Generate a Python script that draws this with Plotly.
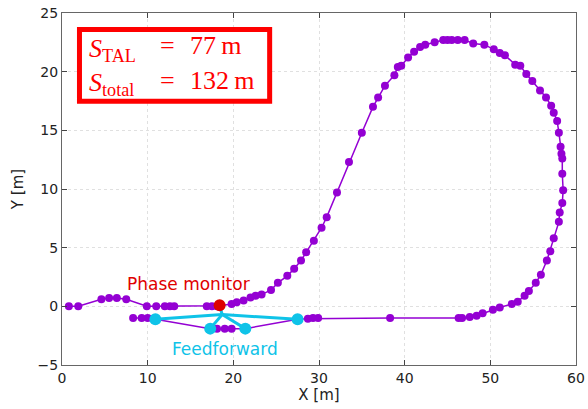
import plotly.graph_objects as go

# Vehicle trajectory (one lap), metres
path_x = [0.8, 1.9, 4.6, 5.5, 6.4, 7.5, 9.9, 11.0, 12.0, 12.6, 13.1,
          16.9, 17.5, 18.1, 18.4, 19.8, 20.4, 21.2, 22.0, 22.6, 23.3, 24.4,
          25.2, 26.3, 27.1, 27.9, 28.5, 29.4, 30.3, 30.9, 32.1, 33.5, 35.0,
          36.3, 36.9, 37.7, 38.8, 39.2, 39.6, 40.4, 41.1, 41.8, 42.4, 43.5,
          44.5, 45.0, 45.5, 46.2, 47.0, 48.0, 49.3, 50.4, 51.1, 51.7, 52.9,
          53.5, 54.2, 54.9, 55.8, 56.5, 57.1, 57.4, 57.8, 58.0, 58.2, 58.3,
          58.4, 58.4, 58.5, 58.4, 58.1, 58.0, 57.4, 57.0, 56.6, 55.9, 55.3,
          54.5, 54.0, 53.2, 52.5, 51.1, 50.3, 49.1, 48.4, 47.6, 46.7, 46.3,
          38.3, 29.9, 29.3, 28.7, 27.5, 21.4, 19.8, 19.0, 18.1, 17.3, 10.9,
          10.0, 9.3, 8.3]
path_y = [0.0, 0.0, 0.6, 0.7, 0.7, 0.6, 0.0, 0.0, 0.0, 0.0, 0.0,
          0.0, 0.0, 0.0, 0.05, 0.2, 0.35, 0.5, 0.75, 0.9, 1.0, 1.4,
          2.0, 2.6, 3.2, 3.9, 4.6, 5.6, 6.7, 7.6, 9.7, 12.3, 14.8,
          17.0, 17.8, 18.8, 19.7, 20.4, 20.5, 21.2, 21.7, 22.1, 22.3, 22.5,
          22.7, 22.7, 22.7, 22.7, 22.7, 22.4, 22.3, 21.9, 21.6, 21.4, 20.6,
          20.5, 19.8, 19.2, 18.4, 17.8, 17.1, 16.5, 15.8, 14.8, 13.6, 13.0,
          12.6, 11.3, 9.9, 8.8, 8.0, 7.2, 5.8, 4.7, 3.9, 2.7, 2.0,
          1.3, 0.9, 0.4, 0.2, -0.1, -0.3, -0.6, -0.8, -0.9, -1.0, -1.0,
          -1.0, -1.0, -1.0, -1.05, -1.1, -1.9, -1.9, -1.9, -1.9, -1.9, -1.1,
          -1.0, -1.0, -1.0]

# Phase monitor location
pm_x = [18.4]
pm_y = [0.1]

# Feedforward sensors and their common junction
ff_x = [10.9, 17.3, 21.4, 27.5]
ff_y = [-1.1, -1.9, -1.9, -1.1]
hub_x, hub_y = 18.7, -0.7

# Length summary
s_tal = 77
s_total = 132

purple = "#9400D3"
cyan = "#0FC3E8"

fig = go.Figure()

fig.add_trace(go.Scatter(
    x=path_x, y=path_y, mode="lines+markers",
    line=dict(color=purple, width=1.5),
    marker=dict(color=purple, size=8),
    showlegend=False, hoverinfo="skip"))

# Cable runs from the junction to each feedforward unit and the phase monitor
cx, cy = [], []
for x, y in zip(ff_x + pm_x, ff_y + pm_y):
    cx += [hub_x, x, None]
    cy += [hub_y, y, None]
fig.add_trace(go.Scatter(
    x=cx, y=cy, mode="lines",
    line=dict(color=cyan, width=3),
    showlegend=False, hoverinfo="skip"))

fig.add_trace(go.Scatter(
    x=ff_x, y=ff_y, mode="markers",
    marker=dict(color=cyan, size=12),
    showlegend=False, hoverinfo="skip"))

fig.add_trace(go.Scatter(
    x=pm_x, y=pm_y, mode="markers",
    marker=dict(color="#DD0000", size=12),
    showlegend=False, hoverinfo="skip"))

fig.add_annotation(x=14.8, y=1.9, text="Phase monitor", showarrow=False,
                   font=dict(family="DejaVu Sans", size=17, color="#E00000"))
fig.add_annotation(x=19.0, y=-3.6, text="Feedforward", showarrow=False,
                   font=dict(family="DejaVu Sans", size=17, color=cyan))

# Length summary box
fig.add_shape(type="rect", xref="paper", yref="paper",
              x0=0.034, x1=0.404, y0=0.749, y1=0.953,
              line=dict(color="#FF0000", width=5), fillcolor="white")
serif = dict(family="Liberation Serif", size=26, color="#FF0000")
rows = [("TAL", s_tal, 0.895), ("total", s_total, 0.797)]
for sub, val, yp in rows:
    fig.add_annotation(xref="paper", yref="paper", x=0.048, y=yp,
                       xanchor="left", yanchor="middle", showarrow=False,
                       text=f"<i>S</i><sub>{sub}</sub>", font=serif)
    fig.add_annotation(xref="paper", yref="paper", x=0.206, y=yp + 0.012,
                       xanchor="center", yanchor="middle", showarrow=False,
                       text="=", font=serif)
    fig.add_annotation(xref="paper", yref="paper", x=0.246, y=yp + 0.012,
                       xanchor="left", yanchor="middle", showarrow=False,
                       text=f"{val}\u2009m", font=serif)

axis_common = dict(
    showline=True, linecolor="#666666", linewidth=1, mirror="ticks",
    ticks="inside", ticklen=5, tickcolor="#444444",
    showgrid=True, gridcolor="#E0E0E0", griddash="dot", gridwidth=1,
    zeroline=False, automargin=False,
    tickfont=dict(family="DejaVu Sans", size=14, color="#222222"),
)

fig.update_xaxes(range=[0, 60], dtick=10,
                 title=dict(text="X [m]", standoff=4,
                            font=dict(family="DejaVu Sans", size=15, color="#222222")),
                 **axis_common)
fig.update_yaxes(range=[-5, 25], dtick=5,
                 title=dict(text="Y [m]", standoff=10,
                            font=dict(family="DejaVu Sans", size=15, color="#222222")),
                 **axis_common)

fig.update_layout(
    width=588, height=409,
    margin=dict(l=62, r=12, t=13, b=44, autoexpand=False),
    paper_bgcolor="white", plot_bgcolor="white",
)

fig.write_html("out.html")
